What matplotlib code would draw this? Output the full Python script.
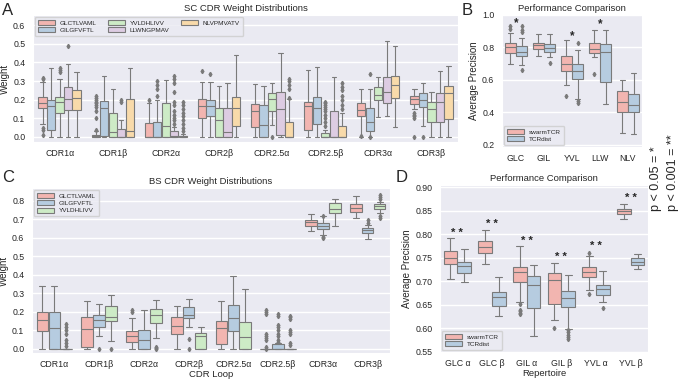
"""Four-panel CDR weight / performance box plots (SC, BS, comparisons)."""

import matplotlib
matplotlib.use("Agg")
import matplotlib.pyplot as plt
from matplotlib.patches import Patch
import seaborn as sns

# ---------------- data ----------------
sc_loops = ["CDR1α", "CDR1β", "CDR2α", "CDR2β", "CDR2.5α", "CDR2.5β", "CDR3α", "CDR3β"]
sc_epitopes = ["GLCTLVAML", "GILGFVFTL", "YVLDHLIVV", "LLWNGPMAV", "NLVPMVATV"]
# rows = loops, cols = epitopes
sc_lo = [[0.07, 0.0, 0.0, 0.0, 0.0], [0.0, 0.0, 0.0, 0.0, 0.0], [0.0, 0.0, 0.0, 0.0, 0.0],
         [0.0, 0.0, 0.0, 0.0, 0.0], [0.0, 0.0, 0.066, 0.0, 0.0], [0.0, 0.0, 0.0, 0.0, 0.0],
         [0.0, 0.0, 0.107, 0.112, 0.053], [0.149, 0.058, 0.0, 0.0, 0.0]]
sc_q1 = [[0.155, 0.036, 0.128, 0.146, 0.146], [0.0, 0.005, 0.0, 0.0, 0.0], [0.0, 0.0, 0.0, 0.0, 0.0],
         [0.101, 0.11, 0.0, 0.0, 0.057], [0.052, 0.0, 0.14, 0.01, 0.0], [0.04, 0.071, 0.0, 0.0, 0.0],
         [0.112, 0.032, 0.198, 0.18, 0.208], [0.176, 0.16, 0.08, 0.08, 0.096]]
sc_med = [[0.185, 0.164, 0.19, 0.205, 0.207], [0.005, 0.155, 0.028, 0.0, 0.034], [0.0, 0.0, 0.06, 0.005, 0.003],
          [0.164, 0.164, 0.089, 0.027, 0.155], [0.14, 0.064, 0.205, 0.151, 0.0], [0.164, 0.155, 0.002, 0.0, 0.0],
          [0.144, 0.08, 0.224, 0.24, 0.278], [0.203, 0.198, 0.149, 0.187, 0.235]]
sc_q3 = [[0.212, 0.20, 0.217, 0.267, 0.253], [0.013, 0.195, 0.13, 0.045, 0.205], [0.075, 0.08, 0.185, 0.03, 0.007],
         [0.203, 0.20, 0.155, 0.155, 0.212], [0.176, 0.17, 0.235, 0.24, 0.082], [0.19, 0.214, 0.022, 0.137, 0.057],
         [0.18, 0.155, 0.267, 0.32, 0.33], [0.219, 0.235, 0.187, 0.235, 0.272]]
sc_hi = [[0.295, 0.368, 0.31, 0.39, 0.35], [0.03, 0.33, 0.26, 0.093, 0.37], [0.18, 0.2, 0.305, 0.055, 0.015],
         [0.297, 0.297, 0.274, 0.288, 0.44], [0.285, 0.274, 0.288, 0.45, 0.206], [0.36, 0.374, 0.04, 0.32, 0.128],
         [0.256, 0.26, 0.32, 0.518, 0.49], [0.256, 0.288, 0.24, 0.353, 0.38]]
sc_fliers = {
    (0, 0): [0.31, 0.315, 0.05, 0.04, 0.01], (0, 2): [0.35, 0.36, 0.37], (0, 3): [0.49],
    (1, 0): [0.04, 0.1, 0.14, 0.16, 0.17, 0.18, 0.19, 0.2, 0.21, 0.22], (1, 3): [0.19, 0.2],
    (2, 0): [0.2], (2, 1): [0.22, 0.26, 0.28, 0.3],
    (2, 3): [0.07, 0.09, 0.1, 0.12, 0.14, 0.17, 0.19, 0.24, 0.29, 0.31, 0.33],
    (2, 4): [0.03, 0.05, 0.07, 0.09, 0.11, 0.13, 0.15, 0.17, 0.19],
    (3, 0): [0.355], (3, 1): [0.34], (4, 2): [0.0], (4, 4): [0.21, 0.26, 0.28, 0.3, 0.31],
    (5, 2): [0.06, 0.08, 0.1, 0.12, 0.14, 0.15, 0.16, 0.17, 0.18, 0.19],
    (5, 4): [0.15, 0.17, 0.2, 0.22, 0.25, 0.27, 0.29],
    (6, 0): [0.005], (6, 1): [0.34, 0.0], (7, 0): [0.1, 0.11, 0.12, 0.13, 0.0], (7, 1): [0.0],
}

bs_epitopes = ["GLCTLVAML", "GILGFVFTL", "YVLDHLIVV"]
bs_lo = [[0, 0, 0], [0, 0.072, 0.045], [0, 0, 0.057], [0, 0.116, 0], [0, 0, 0], [0, 0, 0],
         [0.639, 0.617, 0.666], [0.707, 0.594, 0.734]]
bs_q1 = [[0.098, 0.0, 0.0], [0.009, 0.116, 0.149], [0.036, 0.0, 0.14], [0.08, 0.165, 0.0],
         [0.027, 0.095, 0.0], [0, 0, 0], [0.666, 0.65, 0.734], [0.739, 0.626, 0.755]]
bs_med = [[0.157, 0.111, 0.0], [0.107, 0.157, 0.17], [0.068, 0.048, 0.184], [0.125, 0.183, 0.068],
          [0.111, 0.166, 0.063], [0, 0, 0], [0.684, 0.666, 0.755], [0.761, 0.641, 0.77]]
bs_q3 = [[0.197, 0.202, 0.0], [0.17, 0.183, 0.233], [0.095, 0.102, 0.215], [0.17, 0.229, 0.085],
         [0.152, 0.236, 0.143], [0, 0.027, 0], [0.698, 0.68, 0.787], [0.784, 0.653, 0.784]]
bs_hi = [[0.34, 0.34, 0.0], [0.26, 0.242, 0.29], [0.165, 0.211, 0.263], [0.233, 0.27, 0.117],
         [0.26, 0.394, 0.326], [0, 0.03, 0], [0.728, 0.716, 0.81], [0.827, 0.671, 0.796]]
bs_fliers = {
    (0, 2): [0.135, 0.12, 0.1, 0.08, 0.05, 0.03, 0.015], (1, 1): [0.0], (1, 2): [0.0],
    (2, 0): [0.21, 0.2], (2, 2): [0.01, 0.005, 0.0], (3, 1): [0.055, 0.0],
    (5, 0): [0.21, 0.2, 0.19, 0.08, 0.07, 0.06, 0.05, 0.01, 0.0],
    (5, 1): [0.19, 0.18, 0.13, 0.12, 0.1, 0.08, 0.07, 0.05, 0.04],
    (5, 2): [0.18, 0.17, 0.16, 0.1, 0.09, 0.08, 0.03, 0.02],
    (6, 1): [0.72, 0.605, 0.6], (7, 1): [0.695, 0.68], (7, 2): [0.83, 0.82, 0.81, 0.72, 0.71],
}

methods = ["swarmTCR", "TCRdist"]
b_groups = ["GLC", "GIL", "YVL", "LLW", "NLV"]
# rows = groups, cols = methods
b_lo = [[0.696, 0.69], [0.746, 0.742], [0.566, 0.483], [0.742, 0.448], [0.27, 0.265]]
b_q1 = [[0.768, 0.746], [0.793, 0.773], [0.653, 0.607], [0.765, 0.585], [0.40, 0.40]]
b_med = [[0.804, 0.773], [0.812, 0.797], [0.70, 0.653], [0.79, 0.77], [0.463, 0.445]]
b_q3 = [[0.83, 0.808], [0.828, 0.824], [0.746, 0.70], [0.83, 0.82], [0.53, 0.515]]
b_hi = [[0.886, 0.86], [0.88, 0.88], [0.845, 0.783], [0.907, 0.91], [0.597, 0.64]]
b_fliers = {(0, 0): [0.93, 0.915], (0, 1): [0.93, 0.91, 0.895, 0.66], (1, 1): [0.704],
            (2, 0): [0.498], (2, 1): [0.828, 0.47, 0.458], (3, 0): [0.634]}
b_stars = {0: ("*", 0.95), 2: ("*", 0.87), 3: ("*", 0.944)}

d_groups = ["GLC α", "GLC β", "GIL α", "GIL β", "YVL α", "YVL β"]
d_lo = [[0.705, 0.698], [0.737, 0.627], [0.656, 0.585], [0.618, 0.599], [0.681, 0.656], [0.832, 0.726]]
d_q1 = [[0.738, 0.717], [0.761, 0.648], [0.698, 0.643], [0.651, 0.645], [0.71, 0.672], [0.844, 0.736]]
d_med = [[0.75, 0.732], [0.773, 0.667], [0.719, 0.693], [0.702, 0.665], [0.72, 0.684], [0.849, 0.742]]
d_q3 = [[0.764, 0.742], [0.785, 0.677], [0.731, 0.712], [0.717, 0.679], [0.73, 0.693], [0.853, 0.749]]
d_hi = [[0.792, 0.768], [0.81, 0.709], [0.775, 0.736], [0.74, 0.714], [0.754, 0.723], [0.865, 0.759]]
d_fliers = {(2, 0): [0.653, 0.64, 0.637, 0.633, 0.63], (3, 0): [0.60],
            (3, 1): [0.597, 0.592, 0.587, 0.582, 0.578], (4, 0): [0.761, 0.674], (4, 1): [0.643]}
d_stars = {i: ("* *", y) for i, y in enumerate([0.803, 0.823, 0.787, 0.752, 0.775, 0.877])}

palette = ["#F2B5B0", "#B6CCE0", "#CDEBC6", "#DDCCE2", "#F8DAAA"]
GRAY = "#7a7a7a"

sns.set_style("darkgrid")
plt.rcParams["font.family"] = ["Liberation Sans", "DejaVu Sans"]
plt.rcParams["axes.unicode_minus"] = False


def draw_boxes(ax, lo, q1, med, q3, hi, fliers, ncols):
    w = 0.8 / ncols
    for i in range(len(lo)):
        for j in range(ncols):
            st = dict(whislo=lo[i][j], q1=q1[i][j], med=med[i][j], q3=q3[i][j],
                      whishi=hi[i][j], fliers=fliers.get((i, j), []))
            pos = i - 0.4 + (j + 0.5) * w
            ax.bxp([st], positions=[pos], widths=w * 0.98, patch_artist=True,
                   manage_ticks=False, capwidths=w * 0.5,
                   boxprops=dict(facecolor=palette[j], edgecolor=GRAY, linewidth=0.8),
                   medianprops=dict(color=GRAY, linewidth=0.8),
                   whiskerprops=dict(color=GRAY, linewidth=0.8),
                   capprops=dict(color=GRAY, linewidth=0.8),
                   flierprops=dict(marker="d", markerfacecolor=GRAY, markeredgecolor=GRAY,
                                   markersize=2.2, linestyle="none"))
    ax.set_xlim(-0.5, len(lo) - 0.5)


def style(ax, labels, ylabel, title, tick_fs=6.3):
    ax.set_xticks(range(len(labels)))
    ax.set_xticklabels(labels, fontsize=tick_fs)
    ax.tick_params(axis="y", labelsize=tick_fs, pad=2)
    ax.tick_params(axis="x", pad=1.5)
    ax.set_ylabel(ylabel, fontsize=7, labelpad=2)
    ax.set_title(title, fontsize=6.8, pad=3)
    ax.grid(axis="x", visible=False)
    ax.grid(axis="y", color="white", linewidth=1.0)


def legend(ax, names, loc, ncol=1):
    handles = [Patch(facecolor=palette[k], edgecolor=GRAY, linewidth=0.8, label=n)
               for k, n in enumerate(names)]
    ax.legend(handles=handles, loc=loc, ncol=ncol, fontsize=4.6, frameon=True,
              handlelength=2.6, handleheight=0.8, labelspacing=0.25, columnspacing=1.8,
              borderpad=0.5, handletextpad=0.8, borderaxespad=0.3)


fig = plt.figure(figsize=(6.85, 3.79), dpi=100)
W, H = 685, 379


def add_axes(l, t, r, b):
    return fig.add_axes([l / W, 1 - b / H, (r - l) / W, (b - t) / H])


# A
axA = add_axes(33, 15, 458, 142)
draw_boxes(axA, sc_lo, sc_q1, sc_med, sc_q3, sc_hi, sc_fliers, 5)
axA.set_ylim(-0.027, 0.655)
axA.set_yticks([0.0, 0.1, 0.2, 0.3, 0.4, 0.5, 0.6])
style(axA, sc_loops, "Weight", "SC CDR Weight Distributions")
legend(axA, sc_epitopes, "upper left", ncol=3)

# B
axB = add_axes(502, 15, 642, 147)
draw_boxes(axB, b_lo, b_q1, b_med, b_q3, b_hi, b_fliers, 2)
axB.set_ylim(0.185, 1.0)
axB.set_yticks([0.2, 0.4, 0.6, 0.8, 1.0])
style(axB, b_groups, "Average Precision", "Performance Comparison")
for i, (s, y) in b_stars.items():
    axB.text(i, y, s, ha="center", va="center", fontsize=8.5, fontweight="bold")
legend(axB, methods, "lower left")

# C
axC = add_axes(32, 188, 390, 353)
draw_boxes(axC, bs_lo, bs_q1, bs_med, bs_q3, bs_hi, bs_fliers, 3)
axC.set_ylim(-0.022, 0.87)
axC.set_yticks([0.0, 0.1, 0.2, 0.3, 0.4, 0.5, 0.6, 0.7, 0.8])
style(axC, sc_loops, "Weight", "BS CDR Weight Distributions")
axC.set_xlabel("CDR Loop", fontsize=6.8, labelpad=0.5)
legend(axC, bs_epitopes, "upper left")

# D
axD = add_axes(440, 185, 648, 352)
draw_boxes(axD, d_lo, d_q1, d_med, d_q3, d_hi, d_fliers, 2)
axD.set_ylim(0.552, 0.905)
axD.set_yticks([0.55, 0.60, 0.65, 0.70, 0.75, 0.80, 0.85, 0.90])
style(axD, d_groups, "Average Precision", "Performance Comparison")
axD.set_xlabel("Repertoire", fontsize=6.8, labelpad=0.5)
for i, (s, y) in d_stars.items():
    axD.text(i, y, s, ha="center", va="center", fontsize=8, fontweight="bold")
legend(axD, methods, "lower left")

# panel letters
for letter, x, y in [("A", 2, 3), ("B", 462, 3), ("C", 2, 170), ("D", 396, 170)]:
    fig.text(x / W, 1 - y / H, letter, fontsize=12, va="top", ha="left")

# significance key
fig.text(656 / W, 1 - 211 / H, "p < 0.05 = *", rotation=90, fontsize=9,
         ha="center", va="bottom")
fig.text(673 / W, 1 - 211 / H, "p < 0.001 = **", rotation=90, fontsize=9,
         ha="center", va="bottom")

fig.savefig("out.png", dpi=100)
